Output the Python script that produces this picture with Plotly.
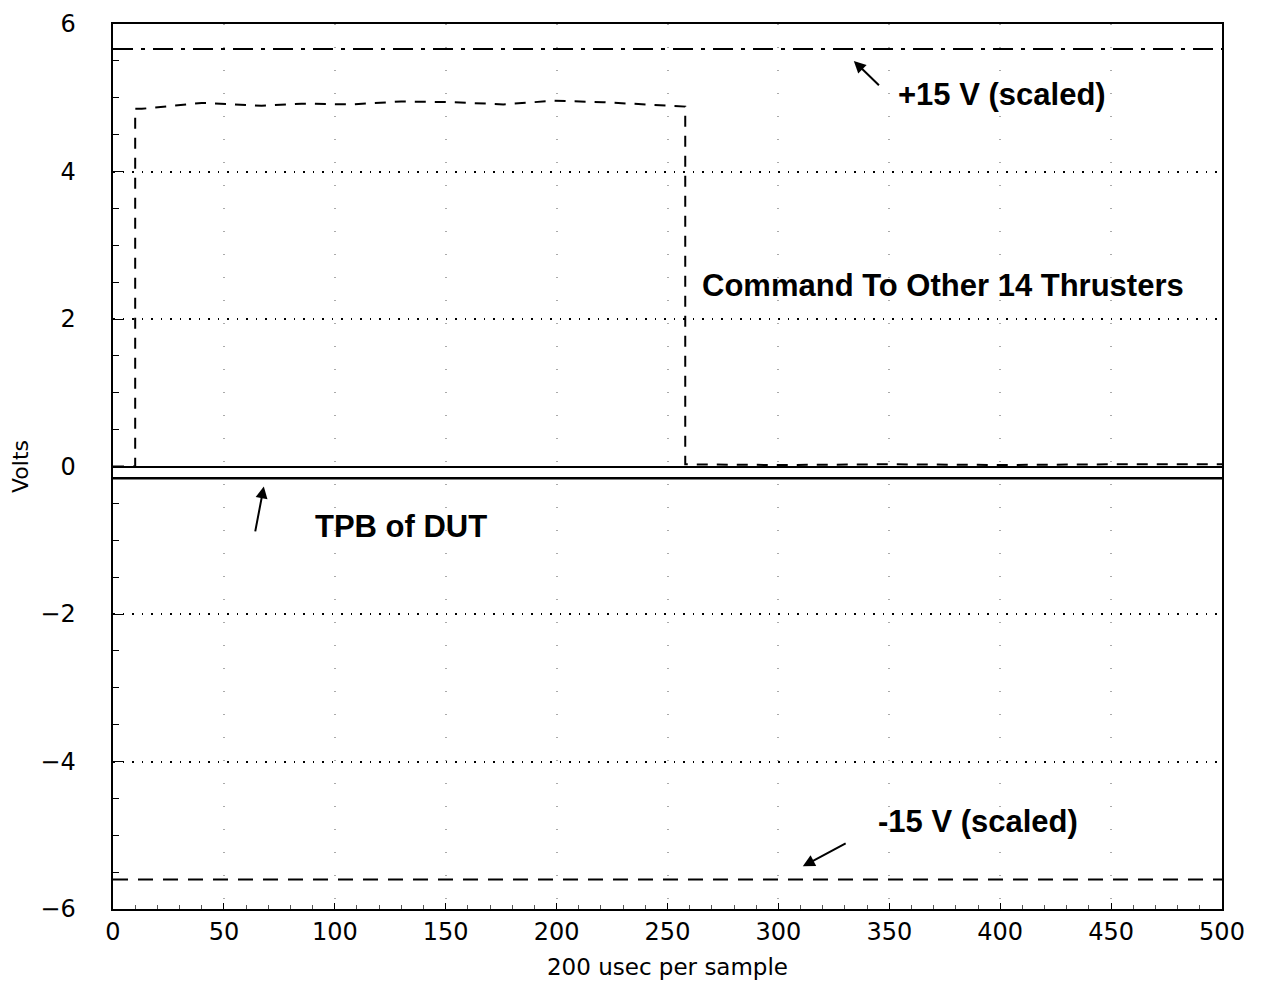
import plotly.graph_objects as go

# sample index (200 usec per sample)
x_cmd = [0, 10, 10, 13, 40, 67, 85, 108, 130, 153, 176, 199, 221, 244, 258, 258, 300, 350, 400, 450, 500]
y_cmd = [0.0, 0.0, 4.85, 4.85, 4.93, 4.89, 4.92, 4.91, 4.95, 4.94, 4.91, 4.96, 4.94, 4.90, 4.88, 0.03, 0.02, 0.03, 0.02, 0.03, 0.03]

x_rail = [0, 500]
y_pos15 = [5.66, 5.66]
y_neg15 = [-5.6, -5.6]
y_tpb = [-0.16, -0.16]

fig = go.Figure()

fig.add_trace(go.Scatter(x=x_rail, y=y_pos15, mode="lines",
                         line=dict(color="black", width=2, dash="20px,8px,4px,8px")))
fig.add_trace(go.Scatter(x=x_cmd, y=y_cmd, mode="lines",
                         line=dict(color="black", width=2, dash="11px,9px")))
fig.add_trace(go.Scatter(x=x_rail, y=y_tpb, mode="lines",
                         line=dict(color="black", width=2.5)))
fig.add_trace(go.Scatter(x=x_rail, y=y_neg15, mode="lines",
                         line=dict(color="black", width=2, dash="15px,10px")))

tick_font = dict(family="DejaVu Sans", size=24, color="black")
label_font = dict(family="Liberation Sans", size=31, color="black")

fig.update_xaxes(
    range=[0, 500], dtick=50, tick0=0,
    showline=True, linecolor="black", linewidth=2, mirror=True,
    ticks="inside", ticklen=6, tickcolor="black",
    minor=dict(dtick=10, ticks="inside", ticklen=4, tickcolor="#555", showgrid=False),
    showgrid=True, gridcolor="#aaa", griddash="1px,22px", gridwidth=1.5,
    zeroline=False, tickfont=tick_font, automargin=False, ticklabeloverflow="allow",
    title=dict(text="200 usec per sample", font=dict(family="DejaVu Sans", size=23, color="black"), standoff=14),
)
fig.update_yaxes(
    range=[-6, 6], dtick=2, tick0=0,
    showline=True, linecolor="black", linewidth=2, mirror=True,
    ticks="inside", ticklen=10, tickcolor="black",
    minor=dict(dtick=0.5, ticks="inside", ticklen=6, tickcolor="black", showgrid=False),
    showgrid=True, gridcolor="black", griddash="1.5px,8px", gridwidth=1.5,
    zeroline=True, zerolinecolor="black", zerolinewidth=1.5,
    tickfont=tick_font, ticksuffix="    ", automargin=False, ticklabeloverflow="allow",
    title=dict(text="Volts", font=dict(family="DejaVu Sans", size=22, color="black"), standoff=30),
)

fig.add_annotation(x=401, y=5.05, text="<b>+15 V (scaled)</b>", showarrow=False, font=label_font)
fig.add_annotation(x=334, y=5.5, ax=346, ay=5.15, axref="x", ayref="y", text="",
                   showarrow=True, arrowhead=2, arrowsize=1.2, arrowwidth=2, arrowcolor="black")
fig.add_annotation(x=374, y=2.45, text="<b>Command To Other 14 Thrusters</b>", showarrow=False, font=label_font)
fig.add_annotation(x=130, y=-0.82, text="<b>TPB of DUT</b>", showarrow=False, font=label_font)
fig.add_annotation(x=68, y=-0.27, ax=64, ay=-0.9, axref="x", ayref="y", text="",
                   showarrow=True, arrowhead=2, arrowsize=1.2, arrowwidth=2, arrowcolor="black")
fig.add_annotation(x=390, y=-4.82, text="<b>-15 V (scaled)</b>", showarrow=False, font=label_font)
fig.add_annotation(x=311, y=-5.42, ax=331, ay=-5.1, axref="x", ayref="y", text="",
                   showarrow=True, arrowhead=2, arrowsize=1.2, arrowwidth=2, arrowcolor="black")

fig.update_layout(
    width=1274, height=993,
    margin=dict(l=105, r=60, t=16, b=92),
    plot_bgcolor="white", paper_bgcolor="white",
    showlegend=False,
)

fig.write_html("out.html")
